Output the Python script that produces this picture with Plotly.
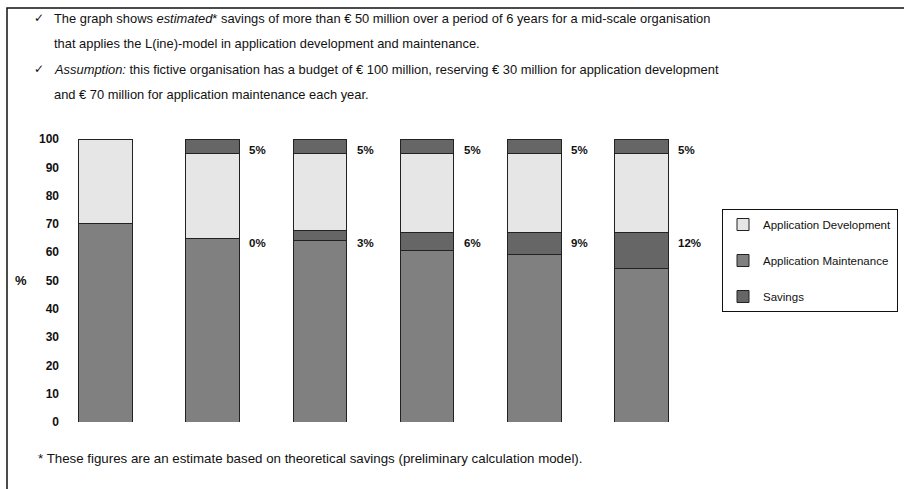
import plotly.graph_objects as go

# ---- data ----
periods = [0, 1, 2, 3, 4, 5]
maintenance = [70, 65, 64.3, 60.5, 59.2, 54.4]
savings_mid = [0, 0, 3.5, 6.4, 7.7, 12.4]
development = [30, 30, 27.2, 28.1, 28.1, 28.2]
savings_top = [0, 5, 5, 5, 5, 5]
top_labels = ["", "5%", "5%", "5%", "5%", "5%"]
mid_labels = ["", "0%", "3%", "6%", "9%", "12%"]
y_ticks = [0, 10, 20, 30, 40, 50, 60, 70, 80, 90, 100]

header_lines = [
    "The graph shows <i>estimated</i>* savings of more than € 50 million over a period of 6 years for a mid-scale organisation",
    "that applies the L(ine)-model in application development and maintenance.",
    "<i>Assumption:</i> this fictive organisation has a budget of € 100 million, reserving € 30 million for application development",
    "and € 70 million for application maintenance each year.",
]
footnote = "* These figures are an estimate based on theoretical savings (preliminary calculation model)."

# ---- layout geometry ----
W, H = 904, 489
L, R, T, B = 60, 209, 139, 67
PW, PH = W - L - R, H - T - B
FONT = "Liberation Sans, Arial, Helvetica, sans-serif"

def px(x):
    return (x - L) / PW

def py(y):
    return (H - B - y) / PH

C_DEV = "#e6e6e6"
C_MAINT = "#808080"
C_SAV = "#666666"
LINE = dict(color="#222222", width=1)

fig = go.Figure()
fig.add_trace(go.Bar(x=periods, y=maintenance, name="Application Maintenance",
                     marker=dict(color=C_MAINT, line=LINE), width=0.5,
                     legendgroup="m", legendrank=2))
fig.add_trace(go.Bar(x=periods, y=savings_mid, name="Savings",
                     marker=dict(color=C_SAV, line=LINE), width=0.5,
                     legendgroup="s", legendrank=3))
fig.add_trace(go.Bar(x=periods, y=development, name="Application Development",
                     marker=dict(color=C_DEV, line=LINE), width=0.5,
                     legendgroup="d", legendrank=1))
fig.add_trace(go.Bar(x=periods, y=savings_top, name="Savings",
                     marker=dict(color=C_SAV, line=LINE), width=0.5,
                     legendgroup="s", showlegend=False))

LBL = dict(family=FONT, size=11.5, color="#111", weight="bold")
annotations = []
for i, p in enumerate(periods):
    if top_labels[i]:
        annotations.append(dict(x=p + 0.25, y=96, xref="x", yref="y", text=top_labels[i],
                                showarrow=False, xanchor="left", xshift=8, font=LBL))
    if mid_labels[i]:
        annotations.append(dict(x=p + 0.25, y=63.3, xref="x", yref="y", text=mid_labels[i],
                                showarrow=False, xanchor="left", xshift=8, font=LBL))

header_y = [18, 43, 69, 94]
for i, line in enumerate(header_lines):
    annotations.append(dict(x=px(52), y=py(header_y[i]), xref="paper", yref="paper", text=line,
                            showarrow=False, xanchor="left", yanchor="middle",
                            font=dict(family=FONT, size=12.9, color="#111")))
for yy in (header_y[0], header_y[2]):
    annotations.append(dict(x=px(32), y=py(yy), xref="paper", yref="paper", text="✓",
                            showarrow=False, xanchor="left", yanchor="middle",
                            font=dict(family="DejaVu Sans", size=12, color="#111")))
annotations.append(dict(x=px(36), y=py(458), xref="paper", yref="paper", text=footnote,
                        showarrow=False, xanchor="left", yanchor="middle",
                        font=dict(family=FONT, size=13.3, color="#111")))
annotations.append(dict(x=px(21), y=50, xref="paper", yref="y", text="%",
                        showarrow=False, xanchor="center", yanchor="middle",
                        font=dict(family=FONT, size=13, color="#111", weight="bold")))

shapes = [dict(type="rect", xref="paper", yref="paper",
               x0=px(7), x1=px(920), y0=py(8), y1=py(510),
               line=dict(color="#111", width=1.5), fillcolor="rgba(0,0,0,0)", layer="below")]

fig.update_layout(
    width=W, height=H,
    margin=dict(l=L, r=R, t=T, b=B, autoexpand=False),
    barmode="stack",
    paper_bgcolor="white", plot_bgcolor="white",
    font=dict(family=FONT, color="#111"),
    xaxis=dict(range=[-0.4245, 5.5], showticklabels=False, showgrid=False, zeroline=False,
               showline=False, ticks=""),
    yaxis=dict(range=[0, 100], tickvals=y_ticks, showgrid=False, zeroline=False, showline=False,
               ticks="", tickfont=dict(family=FONT, size=12, color="#111", weight="bold"),
               ticklabelstandoff=0),
    showlegend=True,
    legend=dict(x=px(722), y=py(209), xanchor="left", yanchor="top",
                bordercolor="#111", borderwidth=1, bgcolor="white",
                font=dict(family=FONT, size=11.5, color="#111"),
                tracegroupgap=17, traceorder="grouped"),
    annotations=annotations,
    shapes=shapes,
)

fig.write_html("out.html", config={"displayModeBar": False},
               post_script="document.body.style.margin='0';")
